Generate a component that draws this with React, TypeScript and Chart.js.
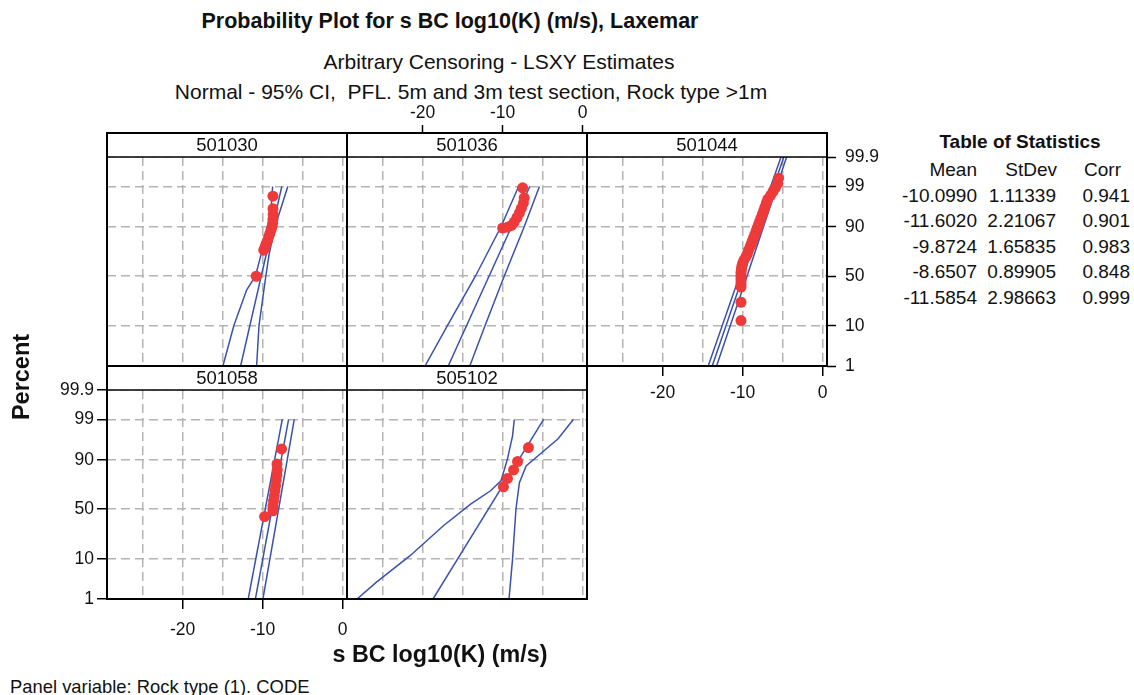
import React, { useEffect, useRef } from 'react';
import { Chart, registerables } from 'chart.js';

Chart.register(...registerables);

const FONT = '"Liberation Sans", Arial, Helvetica, sans-serif';
const RED = '#ee3a3a';
const BLUE = '#3a52ac';
const GRID = '#b4b4b4';

// ---- axis ticks ----
const X_GRID_VALUES = [-25, -20, -15, -10, -5, 0];
const X_LABEL_VALUES = [-20, -10, 0];
const X_MIN = -29.45;
const X_MAX = 0.55;
const Y_TICK_PCTS = [1, 10, 50, 90, 99, 99.9];
const Y_TICK_LABELS = ['1', '10', '50', '90', '99', '99.9'];
const Y_MIN_PCT = 1;
const Y_MAX_PCT = 99.9;

// ---- panel labels ----
const PANEL_LABELS = ['501030', '501036', '501044', '501058', '505102'];

// ---- table of statistics ----
const STAT_MEAN = ['-10.0990', '-11.6020', '-9.8724', '-8.6507', '-11.5854'];
const STAT_STDEV = ['1.11339', '2.21067', '1.65835', '0.89905', '2.98663'];
const STAT_CORR = ['0.941', '0.901', '0.983', '0.848', '0.999'];

// ---- 501030 ----
const P501030_X = [-10.8, -9.85, -9.7, -9.55, -9.4, -9.25, -9.1, -8.95, -8.83, -8.75, -8.7, -8.68, -8.7, -8.71];
const P501030_PCT = [50, 75, 77.5, 80, 82, 84.5, 86.5, 88.5, 90, 91.5, 93, 94.5, 96, 98.1];
const P501030_LO_X = [-14.96, -13.6, -12.0, -10.9, -10.2, -9.1, -8.75];
const P501030_LO_PCT = [1, 10, 36, 50, 71, 90, 99];
const P501030_FIT_X = [-12.75, -7.6];
const P501030_FIT_PCT = [1, 99];
const P501030_HI_X = [-10.75, -10.45, -9.6, -9.2, -8.45, -6.85];
const P501030_HI_PCT = [1, 10, 50, 71, 90, 99];

// ---- 501036 ----
const P501036_X = [-10.0, -9.4, -8.9, -8.55, -8.2, -7.9, -7.65, -7.4, -7.3, -7.5];
const P501036_PCT = [89.4, 89.8, 90.6, 92.0, 93.6, 95.0, 96.1, 97.1, 97.9, 98.9];
const P501036_LO_X = [-19.7, -16.9, -13.4, -10.2, -8.0];
const P501036_LO_PCT = [1, 10, 50, 90, 99];
const P501036_FIT_X = [-16.8, -6.6];
const P501036_FIT_PCT = [1, 99];
const P501036_HI_X = [-14.1, -12.2, -9.8, -7.3, -5.4];
const P501036_HI_PCT = [1, 10, 50, 90, 99];

// ---- 501044 ----
const P501044_X = [-10.2, -10.2, -10.2, -10.2, -10.2, -10.2, -10.2, -10.2, -10.15, -10.1, -10.0, -9.85, -9.6, -9.4, -9.25, -9.05, -8.9, -8.78, -8.63, -8.48, -8.3, -8.17, -8.0, -7.85, -7.7, -7.52, -7.35, -7.2, -7.03, -6.85, -6.5, -6.2, -5.9, -5.6, -5.5];
const P501044_PCT = [12.5, 25, 39, 42, 45, 48, 51, 54, 57, 60, 63, 66, 69, 72, 75, 78, 80, 82, 84, 86, 88, 89.5, 91, 92.3, 93.5, 94.6, 95.6, 96.4, 97.1, 97.7, 98.2, 98.6, 98.9, 99.2, 99.45];
const P501044_LO_X = [-14.3, -10.4, -5.2];
const P501044_LO_PCT = [1, 50, 99.9];
const P501044_FIT_X = [-13.8, -4.85];
const P501044_FIT_PCT = [1, 99.9];
const P501044_HI_X = [-13.25, -9.45, -4.5];
const P501044_HI_PCT = [1, 50, 99.9];

// ---- 501058 ----
const P501058_X = [-9.75, -8.71, -8.71, -8.63, -8.54, -8.46, -8.38, -8.3, -8.21, -8.17, -8.2, -7.63];
const P501058_PCT = [42.5, 48.4, 53.4, 58.6, 63.6, 68.3, 72.8, 77.6, 81.3, 84.5, 87.9, 94.1];
const P501058_LO_X = [-11.8, -7.54];
const P501058_LO_PCT = [1, 99];
const P501058_FIT_X = [-10.9, -6.75];
const P501058_FIT_PCT = [1, 99];
const P501058_HI_X = [-9.96, -6.04];
const P501058_HI_PCT = [1, 99];

// ---- 505102 ----
const P505102_X = [-9.9, -9.4, -8.63, -8.13, -6.77];
const P505102_PCT = [71.9, 78.8, 84.6, 89.2, 94.5];
const P505102_LO_X = [-28.2, -25.8, -21.6, -17.4, -14.0, -11.5, -10.2, -9.4, -8.76, -8.54];
const P505102_LO_PCT = [1, 2.9, 11.3, 33.4, 55.2, 68.4, 77, 90.3, 97.1, 99];
const P505102_FIT_X = [-18.7, -4.87];
const P505102_FIT_PCT = [1, 99];
const P505102_HI_X = [-9.2, -8.76, -8.33, -7.9, -7.06, -5.6, -3.06, -1.16];
const P505102_HI_PCT = [1, 9.7, 50, 75.5, 86.9, 91.6, 96.6, 99];

// ---- layout ----
const COL_LEFT = [107, 347, 587];
const ROW_TOP = [157, 390];
const PLOT_W = 240;
const PLOT_H = 209;
const STRIP_H = 24;
const AL = 70;
const AR = 70;
const AT = 64;
const AB = 45;

// inverse normal CDF (probability-scale transform)
function qnorm(p: number): number {
  const a = [-3.969683028665376e1, 2.209460984245205e2, -2.759285104469687e2, 1.38357751867269e2, -3.066479806614716e1, 2.506628277459239];
  const b = [-5.447609879822406e1, 1.615858368580409e2, -1.556989798598866e2, 6.680131188771972e1, -1.328068155288572e1];
  const c = [-7.784894002430293e-3, -3.223964580411365e-1, -2.400758277161838, -2.549732539343734, 4.374664141464968, 2.938163982698783];
  const d = [7.784695709041462e-3, 3.224671290700398e-1, 2.445134137142996, 3.754408661907416];
  const pl = 0.02425;
  if (p < pl) {
    const q = Math.sqrt(-2 * Math.log(p));
    return (((((c[0] * q + c[1]) * q + c[2]) * q + c[3]) * q + c[4]) * q + c[5]) / ((((d[0] * q + d[1]) * q + d[2]) * q + d[3]) * q + 1);
  }
  if (p <= 1 - pl) {
    const q = p - 0.5;
    const r = q * q;
    return ((((((a[0] * r + a[1]) * r + a[2]) * r + a[3]) * r + a[4]) * r + a[5]) * q) / (((((b[0] * r + b[1]) * r + b[2]) * r + b[3]) * r + b[4]) * r + 1);
  }
  const q = Math.sqrt(-2 * Math.log(1 - p));
  return -(((((c[0] * q + c[1]) * q + c[2]) * q + c[3]) * q + c[4]) * q + c[5]) / ((((d[0] * q + d[1]) * q + d[2]) * q + d[3]) * q + 1);
}

const toXY = (xs: number[], pcts: number[]) => xs.map((x, i) => ({ x, y: qnorm(pcts[i] / 100) }));

type PanelCfg = {
  label: string;
  col: number;
  row: number;
  pts: [number[], number[]];
  lo: [number[], number[]];
  fit: [number[], number[]];
  hi: [number[], number[]];
  left: boolean;
  right: boolean;
  top: boolean;
  bottom: boolean;
  bottomPad: number;
};

const PANELS: PanelCfg[] = [
  { label: PANEL_LABELS[0], col: 0, row: 0, pts: [P501030_X, P501030_PCT], lo: [P501030_LO_X, P501030_LO_PCT], fit: [P501030_FIT_X, P501030_FIT_PCT], hi: [P501030_HI_X, P501030_HI_PCT], left: false, right: false, top: false, bottom: false, bottomPad: 6 },
  { label: PANEL_LABELS[1], col: 1, row: 0, pts: [P501036_X, P501036_PCT], lo: [P501036_LO_X, P501036_LO_PCT], fit: [P501036_FIT_X, P501036_FIT_PCT], hi: [P501036_HI_X, P501036_HI_PCT], left: false, right: false, top: true, bottom: false, bottomPad: 6 },
  { label: PANEL_LABELS[2], col: 2, row: 0, pts: [P501044_X, P501044_PCT], lo: [P501044_LO_X, P501044_LO_PCT], fit: [P501044_FIT_X, P501044_FIT_PCT], hi: [P501044_HI_X, P501044_HI_PCT], left: false, right: true, top: false, bottom: true, bottomPad: 7 },
  { label: PANEL_LABELS[3], col: 0, row: 1, pts: [P501058_X, P501058_PCT], lo: [P501058_LO_X, P501058_LO_PCT], fit: [P501058_FIT_X, P501058_FIT_PCT], hi: [P501058_HI_X, P501058_HI_PCT], left: true, right: false, top: false, bottom: true, bottomPad: 11 },
  { label: PANEL_LABELS[4], col: 1, row: 1, pts: [P505102_X, P505102_PCT], lo: [P505102_LO_X, P505102_LO_PCT], fit: [P505102_FIT_X, P505102_FIT_PCT], hi: [P505102_HI_X, P505102_HI_PCT], left: false, right: false, top: false, bottom: false, bottomPad: 6 },
];

const framePlugin = {
  id: 'panelFrame',
  afterDraw(chart: any, _args: any, opts: any) {
    const { ctx } = chart;
    const { left, top, right, bottom } = chart.chartArea;
    ctx.save();
    ctx.fillStyle = '#ffffff';
    ctx.fillRect(left, top - STRIP_H, right - left, STRIP_H);
    ctx.strokeStyle = '#000';
    ctx.lineWidth = 2;
    ctx.strokeRect(left, top - STRIP_H, right - left, bottom - top + STRIP_H);
    ctx.lineWidth = 1.5;
    ctx.beginPath();
    ctx.moveTo(left, top);
    ctx.lineTo(right, top);
    ctx.stroke();
    ctx.fillStyle = '#111';
    ctx.font = `18.5px ${FONT}`;
    ctx.textAlign = 'center';
    ctx.textBaseline = 'middle';
    ctx.fillText(opts.label, (left + right) / 2, top - STRIP_H / 2 + 1);
    ctx.restore();
  },
};

const tickFont = { family: FONT, size: 17.5 };
const yMin = qnorm(Y_MIN_PCT / 100);
const yMax = qnorm(Y_MAX_PCT / 100);
const yTicks = () => Y_TICK_PCTS.map((p) => ({ value: qnorm(p / 100) }));

function makeChart(canvas: HTMLCanvasElement, p: PanelCfg) {
  const lineDs = (data: { x: number; y: number }[]) => ({
    data,
    showLine: true,
    borderColor: BLUE,
    borderWidth: 1.5,
    pointRadius: 0,
    fill: false,
    tension: 0,
  });
  return new Chart(canvas, {
    type: 'scatter',
    data: {
      datasets: [
        { data: toXY(p.pts[0], p.pts[1]), backgroundColor: RED, borderWidth: 0, pointRadius: 5.5, pointHoverRadius: 5.5 },
        lineDs(toXY(p.lo[0], p.lo[1])),
        lineDs(toXY(p.fit[0], p.fit[1])),
        lineDs(toXY(p.hi[0], p.hi[1])),
      ] as any,
    },
    plugins: [framePlugin],
    options: {
      responsive: false,
      animation: false,
      devicePixelRatio: 1,
      events: [],
      layout: { padding: 0 },
      plugins: {
        legend: { display: false },
        tooltip: { enabled: false },
        title: { display: false },
        panelFrame: { label: p.label },
      } as any,
      scales: {
        x: {
          type: 'linear',
          position: 'bottom',
          min: X_MIN,
          max: X_MAX,
          afterBuildTicks: (s: any) => {
            s.ticks = X_GRID_VALUES.map((v) => ({ value: v }));
          },
          afterFit: (s: any) => {
            s.height = AB;
          },
          ticks: {
            display: p.bottom,
            autoSkip: false,
            maxRotation: 0,
            padding: p.bottomPad,
            color: '#111',
            font: tickFont,
            callback: (v: any) => (X_LABEL_VALUES.includes(Number(v)) ? String(v) : ''),
          },
          grid: {
            color: GRID,
            lineWidth: 1.5,
            drawTicks: true,
            tickLength: 10,
            tickWidth: 1.5,
            tickColor: (c: any) => (p.bottom && c.tick && X_LABEL_VALUES.includes(c.tick.value) ? '#000' : 'rgba(0,0,0,0)'),
          },
          border: { display: false, dash: [9, 5] },
        },
        x2: {
          type: 'linear',
          position: 'top',
          min: X_MIN,
          max: X_MAX,
          afterBuildTicks: (s: any) => {
            s.ticks = X_LABEL_VALUES.map((v) => ({ value: v }));
          },
          afterFit: (s: any) => {
            s.height = AT;
          },
          ticks: { display: p.top, autoSkip: false, maxRotation: 0, padding: 1, color: '#111', font: tickFont },
          grid: { drawOnChartArea: false, drawTicks: p.top, tickLength: STRIP_H + 8, tickWidth: 1.5, tickColor: '#000' },
          border: { display: false },
        },
        y: {
          type: 'linear',
          position: 'left',
          min: yMin,
          max: yMax,
          afterBuildTicks: (s: any) => {
            s.ticks = yTicks();
          },
          afterFit: (s: any) => {
            s.width = AL;
          },
          ticks: {
            display: p.left,
            autoSkip: false,
            padding: 3,
            color: '#111',
            font: tickFont,
            callback: (_v: any, i: number) => Y_TICK_LABELS[i],
          },
          grid: { color: GRID, lineWidth: 1.5, drawTicks: p.left, tickLength: 10, tickWidth: 1.5, tickColor: '#000' },
          border: { display: false, dash: [9, 5] },
        },
        y2: {
          type: 'linear',
          position: 'right',
          min: yMin,
          max: yMax,
          afterBuildTicks: (s: any) => {
            s.ticks = yTicks();
          },
          afterFit: (s: any) => {
            s.width = AR;
          },
          ticks: {
            display: p.right,
            autoSkip: false,
            padding: 9,
            color: '#111',
            font: tickFont,
            callback: (_v: any, i: number) => Y_TICK_LABELS[i],
          },
          grid: { drawOnChartArea: false, drawTicks: p.right, tickLength: 9, tickWidth: 1.5, tickColor: '#000' },
          border: { display: false },
        },
      } as any,
    },
  });
}

type TextProps = {
  x: number;
  y: number;
  size: number;
  bold?: boolean;
  align?: 'center' | 'left' | 'right';
  rotate?: boolean;
  children: React.ReactNode;
};

function Txt({ x, y, size, bold, align = 'center', rotate, children }: TextProps) {
  const tx = align === 'center' ? '-50%' : align === 'right' ? '-100%' : '0';
  return (
    <div
      style={{
        position: 'absolute',
        left: x,
        top: y,
        transform: `translate(${tx}, -50%)${rotate ? ' rotate(-90deg)' : ''}`,
        whiteSpace: 'nowrap',
        fontFamily: FONT,
        fontSize: size,
        fontWeight: bold ? 700 : 400,
        lineHeight: 1,
        color: '#111',
      }}
    >
      {children}
    </div>
  );
}

const STAT_ROW_Y = [195, 220, 246, 271, 297];

export default function App() {
  const refs = useRef<(HTMLCanvasElement | null)[]>([]);

  useEffect(() => {
    const charts = PANELS.map((p, i) => makeChart(refs.current[i] as HTMLCanvasElement, p));
    return () => charts.forEach((c) => c.destroy());
  }, []);

  return (
    <div style={{ position: 'absolute', left: 0, top: 0, width: 1134, height: 695, background: '#fff', overflow: 'hidden' }}>
      <Txt x={450} y={22} size={21.5} bold>
        Probability Plot for s BC log10(K) (m/s), Laxemar
      </Txt>
      <Txt x={499} y={61} size={21}>
        Arbitrary Censoring - LSXY Estimates
      </Txt>
      <Txt x={471} y={91} size={21}>
        Normal - 95% CI,&nbsp; PFL. 5m and 3m test section, Rock type &gt;1m
      </Txt>

      {PANELS.map((p, i) => (
        <canvas
          key={p.label}
          ref={(el) => {
            refs.current[i] = el;
          }}
          width={AL + PLOT_W + AR}
          height={AT + PLOT_H + AB}
          style={{
            position: 'absolute',
            left: COL_LEFT[p.col] - AL,
            top: ROW_TOP[p.row] - AT,
            width: AL + PLOT_W + AR,
            height: AT + PLOT_H + AB,
          }}
        />
      ))}

      <Txt x={22} y={377} size={23.5} bold rotate>
        Percent
      </Txt>
      <Txt x={440} y={655} size={23.3} bold>
        s BC log10(K) (m/s)
      </Txt>
      <Txt x={10} y={687} size={18.4} align="left">
        Panel variable: Rock type (1). CODE
      </Txt>

      <Txt x={1020} y={141} size={19} bold>
        Table of Statistics
      </Txt>
      <Txt x={977} y={169} size={19} align="right">Mean</Txt>
      <Txt x={1057} y={169} size={19} align="right">StDev</Txt>
      <Txt x={1121} y={169} size={19} align="right">Corr</Txt>
      {STAT_MEAN.map((m, i) => (
        <React.Fragment key={m}>
          <Txt x={977} y={STAT_ROW_Y[i]} size={19} align="right">{m}</Txt>
          <Txt x={1056} y={STAT_ROW_Y[i]} size={19} align="right">{STAT_STDEV[i]}</Txt>
          <Txt x={1130} y={STAT_ROW_Y[i]} size={19} align="right">{STAT_CORR[i]}</Txt>
        </React.Fragment>
      ))}
    </div>
  );
}
